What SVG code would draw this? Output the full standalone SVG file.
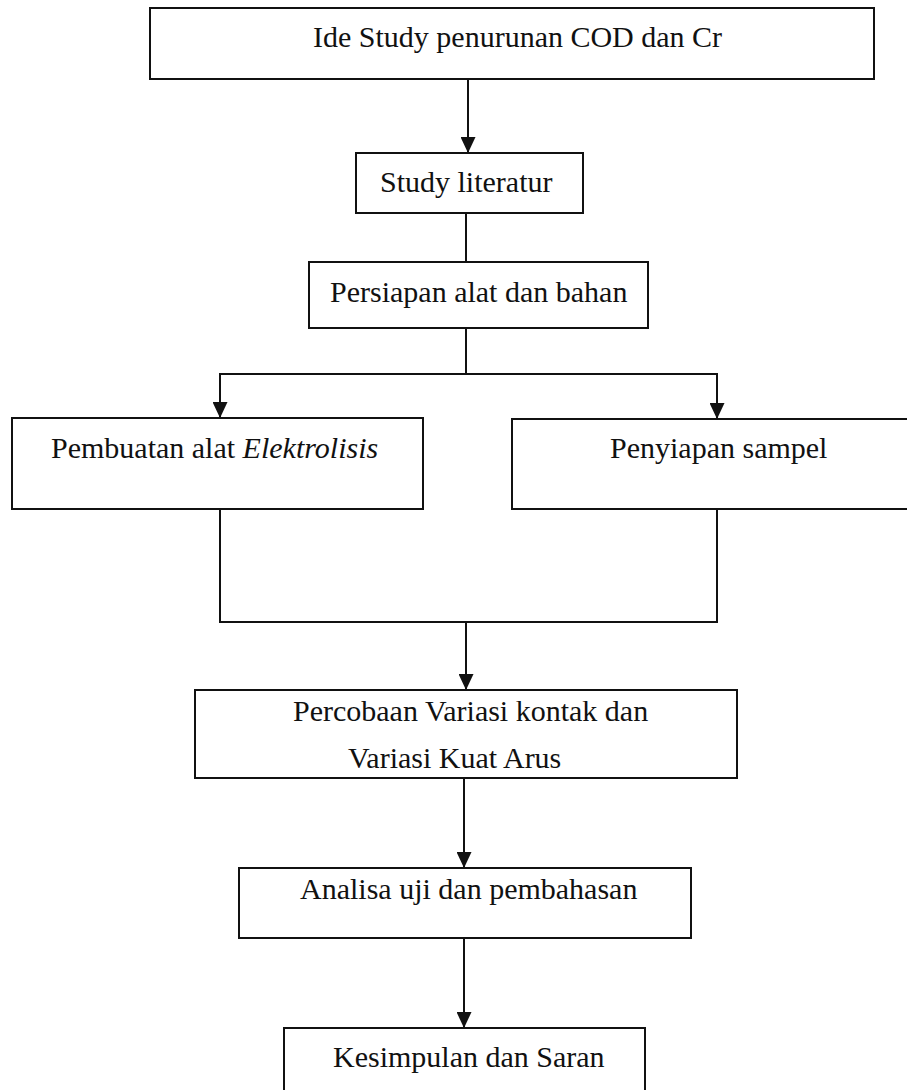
<svg xmlns="http://www.w3.org/2000/svg" width="907" height="1090" viewBox="0 0 907 1090">
<style>
  .box { fill: #ffffff; stroke: #111111; stroke-width: 2; }
  .lbl { font-family: "Liberation Serif", "Times New Roman", serif; font-size: 30px; fill: #111111; }
  .conn { fill: none; stroke: #111111; stroke-width: 2; }
</style>
<defs>
  <marker id="arr" markerUnits="userSpaceOnUse" markerWidth="16" markerHeight="15" refX="16" refY="7.5" viewBox="0 0 16 15" orient="auto">
    <path d="M0,0 L16,7.5 L0,15 z" fill="#111111"/>
  </marker>
</defs>
<rect width="907" height="1090" fill="#ffffff"/>
<g id="connectors">
  <line class="conn" x1="468" y1="79" x2="468" y2="153" marker-end="url(#arr)"/>
  <line class="conn" x1="466" y1="213" x2="466" y2="262"/>
  <polyline class="conn" points="466,328 466,374"/>
  <line class="conn" x1="219" y1="374" x2="718" y2="374"/>
  <line class="conn" x1="220" y1="374" x2="220" y2="418" marker-end="url(#arr)"/>
  <line class="conn" x1="717" y1="374" x2="717" y2="419" marker-end="url(#arr)"/>
  <polyline class="conn" points="220,509 220,622 717,622 717,509"/>
  <line class="conn" x1="466" y1="622" x2="466" y2="690" marker-end="url(#arr)"/>
  <line class="conn" x1="464" y1="778" x2="464" y2="868" marker-end="url(#arr)"/>
  <line class="conn" x1="464" y1="938" x2="464" y2="1028" marker-end="url(#arr)"/>
</g>
<g id="node-ide">
  <rect class="box" x="150" y="8" width="724" height="71"/>
  <text class="lbl" x="313" y="47">Ide Study penurunan COD dan Cr</text>
</g>
<g id="node-study">
  <rect class="box" x="356" y="153" width="227" height="60"/>
  <text class="lbl" x="380" y="192">Study literatur</text>
</g>
<g id="node-persiapan">
  <rect class="box" x="309" y="262" width="339" height="66"/>
  <text class="lbl" x="330" y="302">Persiapan alat dan bahan</text>
</g>
<g id="node-pembuatan">
  <rect class="box" x="12" y="418" width="411" height="91"/>
  <text class="lbl" x="51" y="458">Pembuatan alat <tspan font-style="italic">Elektrolisis</tspan></text>
</g>
<g id="node-penyiapan">
  <rect class="box" x="512" y="419" width="400" height="90"/>
  <text class="lbl" x="610" y="458">Penyiapan sampel</text>
</g>
<g id="node-percobaan">
  <rect class="box" x="195" y="690" width="542" height="88"/>
  <text class="lbl" x="293" y="721">Percobaan Variasi kontak dan</text>
  <text class="lbl" x="348" y="768">Variasi Kuat Arus</text>
</g>
<g id="node-analisa">
  <rect class="box" x="239" y="868" width="452" height="70"/>
  <text class="lbl" x="300" y="899">Analisa uji dan pembahasan</text>
</g>
<g id="node-kesimpulan">
  <rect class="box" x="284" y="1028" width="361" height="70"/>
  <text class="lbl" x="333" y="1067">Kesimpulan dan Saran</text>
</g>
</svg>
